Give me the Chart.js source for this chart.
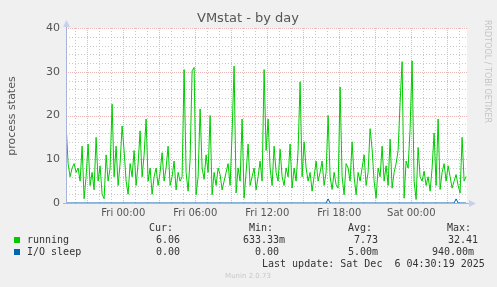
<!DOCTYPE html>
<html lang="en">

<head>
    <meta charset="UTF-8">
    <title>VMstat - by day</title>
    <script src="https://cdn.jsdelivr.net/npm/chart.js"></script>
    <style>
        html, body { margin: 0; padding: 0; background: #f0f0f0; }
        #wrap { width: 497px; height: 287px; position: relative; }
    </style>
</head>

<body>
    <div id="wrap">
        <canvas id="vmstatChart" width="497" height="287"></canvas>
    </div>

    <script>
        // samples every 10 minutes, starting Thu 19:14 (minutes relative to Fri 00:00)
        const startMinute = -286;
        const stepMinutes = 10;

        const running = [
            18, 9, 6, 8, 9, 7, 8, 5, 13, 1,
            6, 13.5, 4, 7, 3, 15, 5, 8.5, 2, 1,
            11, 5, 8, 22.6, 6, 13, 4, 9, 17.6, 12,
            5, 2, 9, 6, 12, 4, 9, 16.5, 6, 11,
            19.2, 5, 8, 2, 6, 8, 4, 7, 11.5, 5,
            8, 13, 4, 6, 9.6, 3, 7, 5, 6, 30.5,
            7, 2.7, 10, 30.2, 31, 1.9, 6, 21.5, 8, 5.4,
            11, 7, 20, 1.9, 7, 4, 8, 6.5, 3, 5,
            7, 9, 4, 16, 31.3, 2.3, 8, 5, 19.2, 1.1,
            7, 13.5, 4, 6, 8, 3, 6, 9.6, 5, 30.5,
            12, 19.2, 8, 4, 13, 7, 5, 12.3, 6, 4,
            8, 6, 13.5, 3.4, 8, 5, 12, 27.7, 6, 14,
            8, 5, 7, 2.7, 6, 9.6, 5, 7, 9.6, 4,
            7, 20, 6, 3.1, 7, 4.2, 3.4, 26.5, 6, 1.9,
            9, 8, 5, 14, 6, 1.9, 7, 5, 8, 11,
            4, 7, 17, 12.3, 5, 1.1, 8, 6, 13, 5,
            8.5, 4, 14.6, 3.4, 7, 9, 12, 23, 32.3, 1.1,
            9.6, 8, 17, 32.5, 5, 0.8, 12.7, 6, 5, 7.3,
            4, 6, 2.7, 8, 16, 4, 19.2, 3.1, 7, 9,
            5, 8.5, 6, 3.4, 5, 6.5, 4, 2.3, 15, 5,
            6.06
        ];

        const ioSleep = running.map(() => 0);
        ioSleep[131] = 0.94;
        ioSleep[195] = 0.94;

        const xTickLabels = {
            0: 'Fri 00:00',
            360: 'Fri 06:00',
            720: 'Fri 12:00',
            1080: 'Fri 18:00',
            1440: 'Sat 00:00'
        };
        const yTickLabels = [0, 10, 20, 30, 40];

        const legendNames = ['running', 'I/O sleep'];
        const legendColors = ['#00cc00', '#0066b3'];
        const legendCur = ['6.06', '0.00'];
        const legendMin = ['633.33m', '0.00'];
        const legendAvg = ['7.73', '5.00m'];
        const legendMax = ['32.41', '940.00m'];

        const times = running.map((v, i) => startMinute + i * stepMinutes);

        const mono = '10px "DejaVu Sans Mono", monospace';
        const minorGrid = '#c8c8c8';
        const majorGrid = '#eab6b6';

        const decor = {
            id: 'decor',
            beforeDraw(chart) {
                const c = chart.ctx;
                const a = chart.chartArea;
                c.save();
                c.fillStyle = '#f0f0f0';
                c.fillRect(0, 0, chart.width, chart.height);
                c.fillStyle = '#ffffff';
                c.fillRect(a.left, a.top, a.right - a.left, a.bottom - a.top);
                c.restore();
            },
            beforeDatasetsDraw(chart) {
                // munin style dotted grid: minor first, major on top
                const c = chart.ctx;
                const a = chart.chartArea;
                const xs = chart.scales.x;
                const ys = chart.scales.y;
                const hLine = (v, col, dash) => {
                    const y = Math.round(ys.getPixelForValue(v)) + 0.5;
                    c.strokeStyle = col;
                    c.setLineDash(dash);
                    c.beginPath();
                    c.moveTo(a.left, y);
                    c.lineTo(a.right, y);
                    c.stroke();
                };
                const vLine = (v, col, dash) => {
                    const x = Math.round(xs.getPixelForValue(v)) + 0.5;
                    c.strokeStyle = col;
                    c.setLineDash(dash);
                    c.beginPath();
                    c.moveTo(x, a.top);
                    c.lineTo(x, a.bottom);
                    c.stroke();
                };
                c.save();
                c.lineWidth = 1;
                for (let v = 2; v < 40; v += 2) {
                    if (v % 10 !== 0) hLine(v, minorGrid, [1, 2]);
                }
                xs.ticks.forEach(t => {
                    if (t.value % 180 !== 0) vLine(t.value, minorGrid, [1, 2]);
                });
                for (let v = 10; v <= 40; v += 10) hLine(v, majorGrid, [1, 1]);
                xs.ticks.forEach(t => {
                    if (t.value % 180 === 0) vLine(t.value, majorGrid, [1, 1]);
                });
                c.restore();
            },
            afterDatasetsDraw(chart) {
                const c = chart.ctx;
                const a = chart.chartArea;
                c.save();
                // axes with arrows
                c.strokeStyle = '#a8b4dc';
                c.fillStyle = '#c8d0ee';
                c.lineWidth = 1;
                c.beginPath();
                c.moveTo(a.left + 0.5, a.bottom);
                c.lineTo(a.left + 0.5, a.top - 4);
                c.moveTo(a.left - 3, a.bottom + 0.5);
                c.lineTo(a.right + 4, a.bottom + 0.5);
                c.stroke();
                c.beginPath();
                c.moveTo(a.left - 3, a.top - 1);
                c.lineTo(a.left + 0.5, a.top - 8);
                c.lineTo(a.left + 4, a.top - 1);
                c.closePath();
                c.fill();
                c.beginPath();
                c.moveTo(a.right + 2, a.bottom - 3);
                c.lineTo(a.right + 9, a.bottom + 0.5);
                c.lineTo(a.right + 2, a.bottom + 4);
                c.closePath();
                c.fill();

                // title
                c.fillStyle = '#555555';
                c.font = '13px "DejaVu Sans", sans-serif';
                c.textAlign = 'center';
                c.textBaseline = 'middle';
                c.fillText('VMstat - by day', 248, 19);

                // y axis title
                c.save();
                c.translate(12, 116);
                c.rotate(-Math.PI / 2);
                c.font = '11px "DejaVu Sans", sans-serif';
                c.fillText('process states', 0, 0);
                c.restore();

                // rrdtool credit
                c.save();
                c.translate(487, 20);
                c.rotate(Math.PI / 2);
                c.fillStyle = '#c4c4c4';
                c.font = '8px "DejaVu Sans", sans-serif';
                c.textAlign = 'left';
                c.fillText('RRDTOOL / TOBI OETIKER', 0, 0);
                c.restore();

                // legend table
                c.font = mono;
                c.fillStyle = '#333333';
                c.textAlign = 'left';
                c.fillText('Cur:', 149, 228);
                c.fillText('Min:', 249, 228);
                c.fillText('Avg:', 348, 228);
                c.fillText('Max:', 447, 228);
                const rows = [240, 252];
                const curX = [156, 156];
                const minX = [243, 255];
                const avgX = [354, 348];
                const maxX = [448, 432];
                legendNames.forEach((name, i) => {
                    const y = rows[i];
                    c.fillStyle = legendColors[i];
                    c.fillRect(14, y - 3, 6, 6);
                    c.fillStyle = '#333333';
                    c.fillText(name, 27, y);
                    c.fillText(legendCur[i], curX[i], y);
                    c.fillText(legendMin[i], minX[i], y);
                    c.fillText(legendAvg[i], avgX[i], y);
                    c.fillText(legendMax[i], maxX[i], y);
                });
                c.fillText('Last update: Sat Dec  6 04:30:19 2025', 262, 264);

                c.fillStyle = '#c8c8c8';
                c.font = '7px "DejaVu Sans", sans-serif';
                c.textAlign = 'center';
                c.fillText('Munin 2.0.73', 248, 276);
                c.restore();
            }
        };

        const ctx = document.getElementById('vmstatChart').getContext('2d');
        const vmstatChart = new Chart(ctx, {
            type: 'line',
            data: {
                labels: times,
                datasets: [{
                    label: legendNames[0],
                    data: running,
                    borderColor: legendColors[0],
                    borderWidth: 1,
                    pointRadius: 0,
                    tension: 0
                }, {
                    label: legendNames[1],
                    data: ioSleep,
                    borderColor: legendColors[1],
                    borderWidth: 1,
                    pointRadius: 0,
                    tension: 0
                }]
            },
            options: {
                responsive: false,
                animation: false,
                layout: {
                    padding: { left: 0, top: 28, right: 30, bottom: 64 }
                },
                plugins: {
                    legend: { display: false },
                    tooltip: { enabled: false }
                },
                scales: {
                    x: {
                        type: 'linear',
                        min: -286.5,
                        max: 1718.5,
                        afterFit(scale) { scale.height = 20; },
                        afterBuildTicks(scale) {
                            const t = [];
                            for (let m = -240; m <= 1680; m += 60) t.push({ value: m });
                            scale.ticks = t;
                        },
                        ticks: {
                            autoSkip: false,
                            maxRotation: 0,
                            padding: 4,
                            color: '#555555',
                            font: { family: 'DejaVu Sans', size: 10 },
                            callback: (v) => xTickLabels[v] || ''
                        },
                        grid: { display: false, drawTicks: false },
                        border: { display: false }
                    },
                    y: {
                        min: 0,
                        max: 40,
                        afterFit(scale) { scale.width = 66; },
                        afterBuildTicks(scale) {
                            const t = [];
                            for (let v = 0; v <= 40; v += 2) t.push({ value: v });
                            scale.ticks = t;
                        },
                        ticks: {
                            autoSkip: false,
                            padding: 6,
                            color: '#555555',
                            font: { family: 'DejaVu Sans', size: 11 },
                            callback: (v) => yTickLabels.includes(v) ? String(v) : ''
                        },
                        grid: { display: false, drawTicks: false },
                        border: { display: false }
                    }
                }
            },
            plugins: [decor]
        });
    </script>

</body>

</html>
